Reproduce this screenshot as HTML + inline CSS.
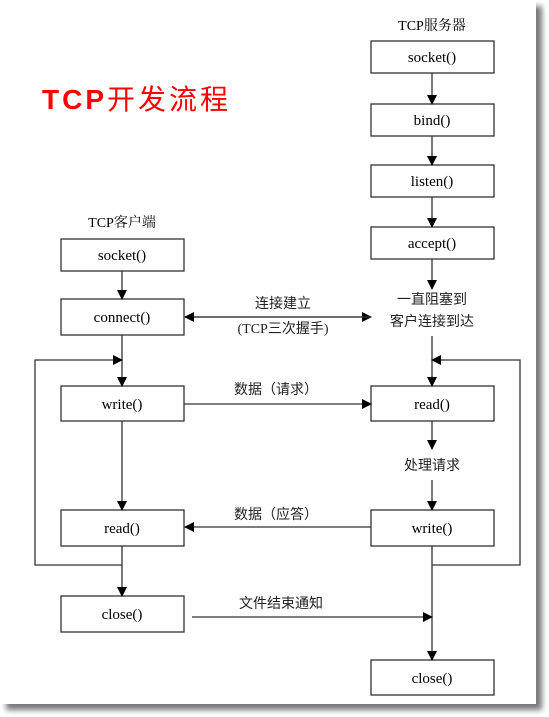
<!DOCTYPE html>
<html><head><meta charset="utf-8"><style>
body{margin:0;background:#fff;width:549px;height:717px;overflow:hidden;}
</style></head><body>
<svg width="549" height="717" xmlns="http://www.w3.org/2000/svg" style="position:absolute;left:0;top:0">
<defs>
<marker id="a" markerWidth="10" markerHeight="10" refX="9" refY="5" orient="auto" markerUnits="userSpaceOnUse"><path d="M0,0 L10,5 L0,10 z" fill="#000"/></marker>
<filter id="sh" x="-5%" y="-5%" width="115%" height="115%"><feGaussianBlur stdDeviation="3"/></filter>
</defs>
<rect x="6" y="6" width="536" height="704" fill="#777" filter="url(#sh)"/>
<rect x="0" y="0" width="536" height="704" fill="#fff"/>
<g font-family="Liberation Serif, Noto Serif CJK SC, serif" font-size="14" text-anchor="middle" fill="#000">
<text x="432" y="30">TCP服务器</text>
<text x="122" y="227">TCP客户端</text>
</g>
<text x="42" y="109" font-family="Liberation Sans, Noto Sans CJK SC, sans-serif" font-size="28" font-weight="bold" fill="#f00" letter-spacing="3">TCP<tspan font-weight="normal">开发流程</tspan></text>
<g fill="#fff" stroke="#333" stroke-width="1.3">
<rect x="371" y="41" width="123" height="32"/>
<rect x="371" y="104" width="123" height="32"/>
<rect x="371" y="165" width="123" height="32"/>
<rect x="371" y="227" width="123" height="32"/>
<rect x="371" y="386" width="123" height="35"/>
<rect x="371" y="510" width="123" height="36"/>
<rect x="371" y="660" width="123" height="35"/>
<rect x="61" y="239" width="123" height="32"/>
<rect x="61" y="299" width="123" height="36"/>
<rect x="61" y="386" width="123" height="35"/>
<rect x="61" y="510" width="123" height="36"/>
<rect x="61" y="596" width="123" height="36"/>
</g>
<g font-family="Liberation Serif, serif" font-size="15" text-anchor="middle">
<text x="432" y="62">socket()</text>
<text x="432" y="125">bind()</text>
<text x="432" y="186">listen()</text>
<text x="432" y="248">accept()</text>
<text x="432" y="409">read()</text>
<text x="432" y="533">write()</text>
<text x="432" y="683">close()</text>
<text x="122" y="260">socket()</text>
<text x="122" y="322">connect()</text>
<text x="122" y="409">write()</text>
<text x="122" y="533">read()</text>
<text x="122" y="619">close()</text>
</g>
<g font-family="Noto Sans CJK SC, sans-serif" font-size="14" text-anchor="middle" fill="#222">
<text x="432" y="304">一直阻塞到</text>
<text x="432" y="326">客户连接到达</text>
<text x="432" y="470">处理请求</text>
<text x="283" y="308">连接建立</text>
<text x="283" y="333" font-family="Liberation Serif, Noto Sans CJK SC, serif">(TCP三次握手)</text>
<text x="276" y="394">数据（请求）</text>
<text x="276" y="519">数据（应答）</text>
<text x="281" y="608">文件结束通知</text>
</g>
<g stroke="#333" stroke-width="1.3" fill="none">
<line x1="432" y1="73" x2="432" y2="104" marker-end="url(#a)"/>
<line x1="432" y1="136" x2="432" y2="165" marker-end="url(#a)"/>
<line x1="432" y1="197" x2="432" y2="227" marker-end="url(#a)"/>
<line x1="432" y1="259" x2="432" y2="289" marker-end="url(#a)"/>
<line x1="432" y1="336" x2="432" y2="386" marker-end="url(#a)"/>
<polyline points="432,565 520,565 520,360 432,360" marker-end="url(#a)"/>
<line x1="432" y1="421" x2="432" y2="449" marker-end="url(#a)"/>
<line x1="432" y1="480" x2="432" y2="510" marker-end="url(#a)"/>
<line x1="432" y1="546" x2="432" y2="660" marker-end="url(#a)"/>
<line x1="122" y1="271" x2="122" y2="299" marker-end="url(#a)"/>
<line x1="122" y1="335" x2="122" y2="386" marker-end="url(#a)"/>
<polyline points="122,565 35,565 35,360 122,360" marker-end="url(#a)"/>
<line x1="122" y1="421" x2="122" y2="510" marker-end="url(#a)"/>
<line x1="122" y1="546" x2="122" y2="596" marker-end="url(#a)"/>
<line x1="194" y1="317" x2="371" y2="317" marker-end="url(#a)"/>
<line x1="371" y1="317" x2="185" y2="317" marker-end="url(#a)"/>
<line x1="184" y1="404" x2="371" y2="404" marker-end="url(#a)"/>
<line x1="371" y1="527" x2="185" y2="527" marker-end="url(#a)"/>
<line x1="192" y1="617" x2="432" y2="617" marker-end="url(#a)"/>
</g>
</svg>
</body></html>
